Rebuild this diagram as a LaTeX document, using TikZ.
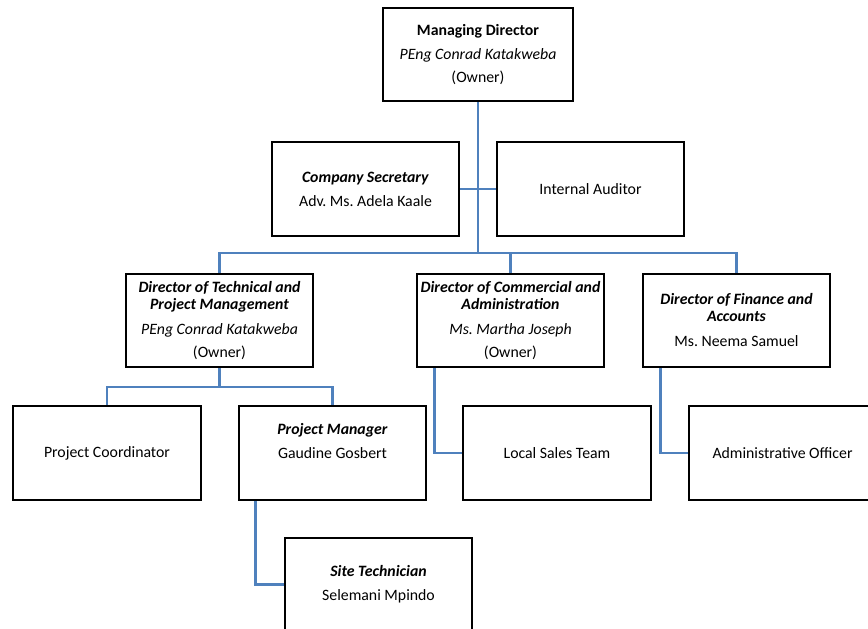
\documentclass[tikz,border=0pt]{standalone}
\usepackage{fontspec}
\setmainfont{Carlito}
\frenchspacing
\definecolor{conn}{RGB}{79,129,189}
\begin{document}
\begin{tikzpicture}[x=1pt,y=-1pt,
  box/.style={draw=black,line width=2.5pt,fill=white,minimum width=187pt,minimum height=93pt,
    inner sep=0pt,align=center,font=\fontsize{15.8}{17}\selectfont},
  txt/.style={inner sep=0pt,align=center,font=\fontsize{15.8}{17}\selectfont},
  link/.style={draw=conn,line width=2.7pt}]
\useasboundingbox (0,0) rectangle (868,629);
\clip (0,0) rectangle (868,629);
% boxes
\node[box,minimum width=190pt] (md) at (478,54.5) {\textbf{Managing Director}\\[7pt]\textit{PEng Conrad Katakweba}\\[6pt](Owner)};
\node[box,minimum height=94pt] (cs) at (365.5,189) {\textbf{\textit{Company Secretary}}\\[7pt]Adv. Ms. Adela Kaale};
\node[box,minimum height=94pt] (ia) at (590.5,189) {Internal Auditor};
\node[box] (dt) at (219.5,320.5) {\textbf{\textit{Director of Technical and}}\\\textbf{\textit{Project Management}}\\[8pt]\textit{PEng Conrad Katakweba}\\[6pt](Owner)};
\node[box] (dc) at (510.5,320.5) {\textbf{\textit{Director of Commercial and}}\\\textbf{\textit{Administration}}\\[8pt]\textit{Ms. Martha Joseph}\\[6pt](Owner)};
\node[box] (df) at (736.5,320.5) {\textbf{\textit{Director of Finance and}}\\\textbf{\textit{Accounts}}\\[8pt]Ms. Neema Samuel};
\node[box,minimum width=188pt,minimum height=94pt] (pc) at (107,453) {Project Coordinator};
\node[box,minimum height=94pt] (pm) at (332.5,453) {};
\node[txt] (pmtext) at ([yshift=12pt]pm.center) {\textbf{\textit{Project Manager}}\\[7pt]Gaudine Gosbert};
\node[box,minimum width=188pt,minimum height=94pt] (ls) at (557,453) {Local Sales Team};
\node[box,minimum height=94pt] (ao) at (782.5,453) {Administrative Officer};
\node[box] (st) at (378.5,584.5) {\textbf{\textit{Site Technician}}\\[7pt]Selemani Mpindo};
% bus levels
\coordinate (bus) at (0,253);
\coordinate (bustwo) at (0,387);
% connectors
\draw[link] (md.south) -- (md.south |- bus);
\draw[link] (cs.east) -- (ia.west);
\draw[link] (dt.north) -- (dt.north |- bus) -- (df.north |- bus) -- (df.north);
\draw[link] (dc.north) -- (dc.north |- bus);
\draw[link] (dt.south) -- (dt.south |- bustwo);
\draw[link] (pc.north) -- (pc.north |- bustwo) -- (pm.north |- bustwo) -- (pm.north);
\draw[link] ([xshift=19pt]dc.south west) |- (ls.west);
\draw[link] ([xshift=19pt]df.south west) |- (ao.west);
\draw[link] ([xshift=18pt]pm.south west) |- (st.west);
\end{tikzpicture}
\end{document}
